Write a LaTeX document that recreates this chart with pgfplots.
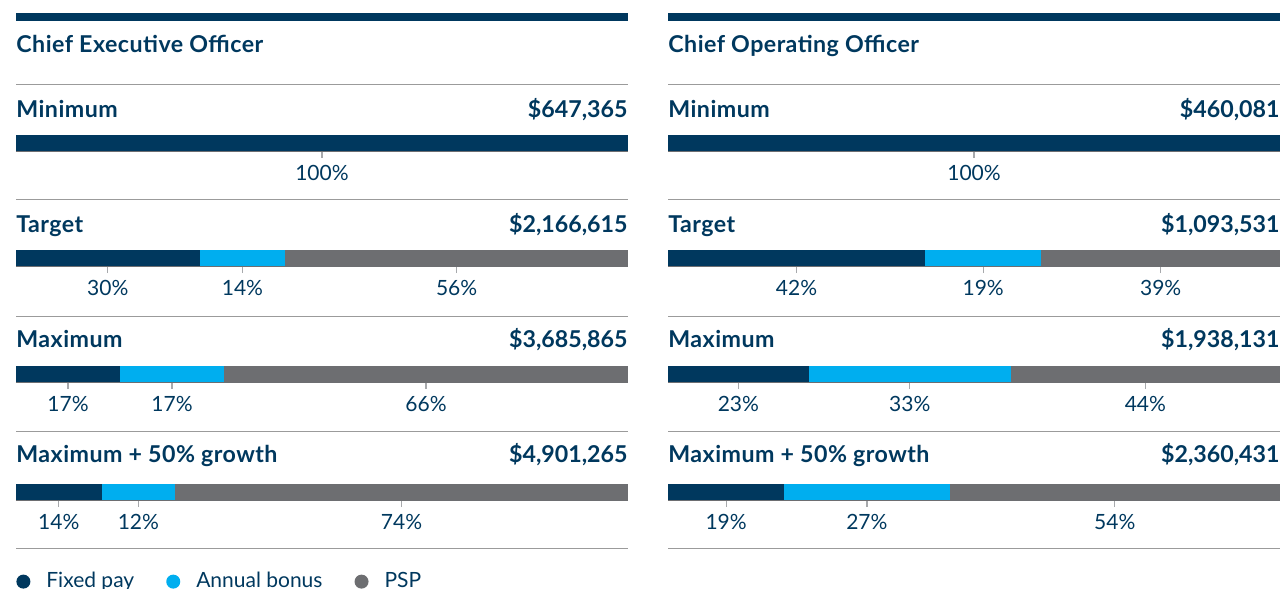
\documentclass[border=0pt]{standalone}
\usepackage{pgfplots}
\pgfplotsset{compat=1.18}
\usepackage{fontspec}
\setmainfont{Lato}
\newfontfamily\labfont{Lato}[LetterSpace=2.0]

\definecolor{navy}{HTML}{00385E}
\definecolor{sky}{HTML}{00AEEF}
\definecolor{psp}{HTML}{6D6E71}
\definecolor{rule}{HTML}{9B9B9B}
\definecolor{tickgray}{HTML}{A7A9AC}

\newcommand{\lab}{\fontsize{11.6}{13}\selectfont\labfont\bfseries}
\newcommand{\val}{\fontsize{11.6}{13}\selectfont\bfseries}
\newcommand{\pct}{\fontsize{10.5}{12}\selectfont}

% one stacked bar per row, ticks sit under the segment centres
\pgfplotsset{
  rowbar/.style={
    anchor=north west,
    width=306pt, height=8pt, scale only axis,
    xbar stacked, bar width=8pt,
    xmin=0, xmax=100, ymin=0.5, ymax=1.5,
    axis x line*=bottom, axis y line=none, ytick=\empty,
    axis line style={psp, line width=0.5pt, -},
    xtick pos=lower, xtick align=outside, tick align=outside,
    major tick length=3.5pt,
    xtick style={draw=tickgray, line width=0.6pt},
    xticklabel style={font=\pct, text=navy},
    axis on top, clip=false,
    every axis plot/.append style={draw=none},
    legend image code/.code={\path[draw=none, fill=none] (0pt,-1pt) rectangle (13pt,1pt);
      \fill[##1] (3.5pt,0pt) circle (3.5pt);},
  }
}

% x, y of top left corner, fixed, bonus, psp, tick positions, tick labels, extra options
\newcommand{\payrow}[8]{%
\begin{axis}[rowbar, at={(#1,#2)}, xtick={#6}, xticklabels={#7}, #8]
\addplot[fill=navy] coordinates {(#3,1)};
\addplot[fill=sky] coordinates {(#4,1)};
\addplot[fill=psp] coordinates {(#5,1)};
\end{axis}}

\newcommand{\rowlabel}[5]{%
\node[anchor=base west, inner sep=0, font=\lab, text=navy] at (#1,#3) {#4};
\node[anchor=base east, inner sep=0, font=\val, text=navy] at (#2,#3) {#5};}

\begin{document}
\begin{tikzpicture}
% header bars and titles
\fill[navy] (8pt,-6.5pt) rectangle (314pt,-10.5pt);
\fill[navy] (334pt,-6.5pt) rectangle (640pt,-10.5pt);
\node[anchor=base west, inner sep=0, font=\lab, text=navy] at (8pt,-26.5pt) {Chief Executive Officer};
\node[anchor=base west, inner sep=0, font=\lab, text=navy] at (334pt,-26.5pt) {Chief Operating Officer};

\foreach \y in {-42,-99.75,-158,-215.75,-274} {
  \draw[rule, line width=0.5pt] (8pt,\y pt) -- (314pt,\y pt);
  \draw[rule, line width=0.5pt] (334pt,\y pt) -- (640pt,\y pt);
}

% Chief Executive Officer
\rowlabel{8pt}{314pt}{-58.5pt}{Minimum}{\$647,365}
\rowlabel{8pt}{314pt}{-116pt}{Target}{\$2,166,615}
\rowlabel{8pt}{314pt}{-173.5pt}{Maximum}{\$3,685,865}
\rowlabel{8pt}{314pt}{-231pt}{Maximum + 50\% growth}{\$4,901,265}
\payrow{8pt}{-67.5pt}{100}{0}{0}{50}{100\%}{}
\payrow{8pt}{-125pt}{30}{14}{56}{15,37,72}{30\%,14\%,56\%}{}
\payrow{8pt}{-183pt}{17}{17}{66}{8.5,25.5,67}{17\%,17\%,66\%}{}
\payrow{8pt}{-242pt}{14}{12}{74}{7,20,63}{14\%,12\%,74\%}{legend entries={Fixed pay,Annual bonus,PSP},
  legend style={at={(0,-5.1)}, anchor=west, draw=none, fill=none, inner sep=0pt,
    legend columns=3, font=\pct, text=navy,
    /tikz/every even column/.append style={column sep=14pt}}}

% Chief Operating Officer
\rowlabel{334pt}{640pt}{-58.5pt}{Minimum}{\$460,081}
\rowlabel{334pt}{640pt}{-116pt}{Target}{\$1,093,531}
\rowlabel{334pt}{640pt}{-173.5pt}{Maximum}{\$1,938,131}
\rowlabel{334pt}{640pt}{-231pt}{Maximum + 50\% growth}{\$2,360,431}
\payrow{334pt}{-67.5pt}{100}{0}{0}{50}{100\%}{}
\payrow{334pt}{-125pt}{42}{19}{39}{21,51.5,80.5}{42\%,19\%,39\%}{}
\payrow{334pt}{-183pt}{23}{33}{44}{11.5,39.5,78}{23\%,33\%,44\%}{}
\payrow{334pt}{-242pt}{19}{27}{54}{9.5,32.5,73}{19\%,27\%,54\%}{}

\pgfresetboundingbox
\path[use as bounding box] (0pt,0pt) rectangle (640pt,-294.5pt);
\end{tikzpicture}
\end{document}
